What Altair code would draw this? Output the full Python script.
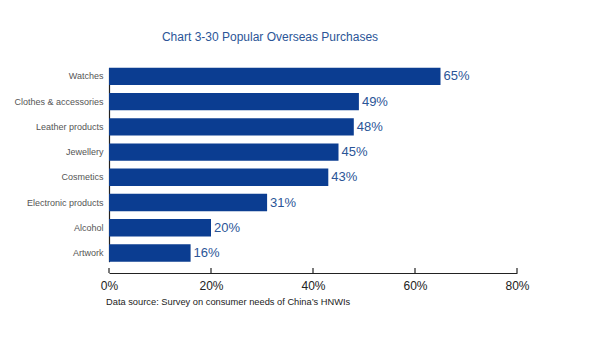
import altair as alt
import pandas as pd

categories = ["Watches", "Clothes & accessories", "Leather products", "Jewellery",
              "Cosmetics", "Electronic products", "Alcohol", "Artwork"]
values = [65, 49, 48, 45, 43, 31, 20, 16]
tick_values = [0, 20, 40, 60, 80]

df = pd.DataFrame({"category": categories, "value": values})
df["label"] = df["value"].astype(str) + "%"
ticks_df = pd.DataFrame({"t": tick_values})

W, H = 408, 210
BAR = "#0B3D91"
LBL = "#2B5597"

x_scale = alt.Scale(domain=[0, 80], nice=False)
y_scale = alt.Scale(range=[4.7, 198.7], paddingInner=0.31, paddingOuter=0)

base = alt.Chart(df)

bars = base.mark_bar(color=BAR).encode(
    x=alt.X("value:Q", scale=x_scale,
            axis=alt.Axis(values=tick_values, title=None, grid=False, ticks=False,
                          labelExpr="datum.value + '%'", labelFontSize=12,
                          labelFlush=False, labelOverlap=False,
                          labelColor="#222222", labelPadding=7, domainColor="#222222",
                          domainWidth=1.2, labelFont="Liberation Sans")),
    y=alt.Y("category:N", sort=categories, scale=y_scale,
            axis=alt.Axis(title=None, ticks=False, labelFontSize=9, labelColor="#555555",
                          labelPadding=6, domainColor="#222222", domainWidth=1.2,
                          labelFont="Liberation Sans")),
)

labels = base.mark_text(align="left", baseline="middle", dx=3, fontSize=13,
                        color=LBL, font="Liberation Sans").encode(
    x=alt.X("value:Q", scale=x_scale),
    y=alt.Y("category:N", sort=categories, scale=y_scale),
    text="label:N",
)

tick_marks = alt.Chart(ticks_df).mark_rule(color="#222222", strokeWidth=1.2).encode(
    x=alt.X("t:Q", scale=x_scale),
    y=alt.value(H - 5),
    y2=alt.value(H),
)

footnote = alt.Chart(pd.DataFrame({"s": ["Data source: Survey on consumer needs of China’s HNWIs"]})).mark_text(
    align="left", baseline="alphabetic", fontSize=9.3, color="#222222", font="Liberation Sans"
).encode(x=alt.value(-3), y=alt.value(H + 32), text="s:N")

chart = alt.layer(bars, labels, tick_marks, footnote).properties(
    width=W, height=H,
    title=alt.Title("Chart 3-30 Popular Overseas Purchases", fontSize=12, fontWeight="normal",
                    color="#2B5597", font="Liberation Sans", anchor="middle", dx=-43,
                    offset=19),
    padding={"left": 109, "top": 63, "right": 73, "bottom": 75},
    autosize=alt.AutoSizeParams(type="none"),
    background="white",
).configure_view(stroke=None)

chart.save("out.html", embed_options={"renderer": "svg", "actions": False})
